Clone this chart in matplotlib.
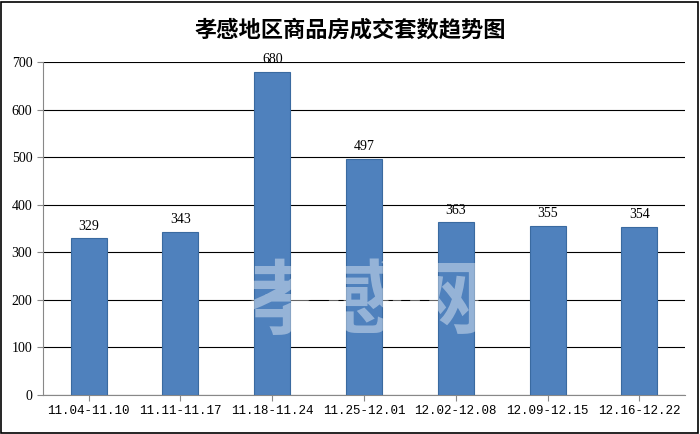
import matplotlib
matplotlib.use("Agg")
import matplotlib.pyplot as plt
from matplotlib.patches import Rectangle

categories = ["11.04-11.10", "11.11-11.17", "11.18-11.24", "11.25-12.01",
              "12.02-12.08", "12.09-12.15", "12.16-12.22"]
values = [329, 343, 680, 497, 363, 355, 354]
title = "孝感地区商品房成交套数趋势图"

fig = plt.figure(figsize=(7.0, 4.34), dpi=100)
ax = fig.add_axes([0.061, 0.09, 0.918, 0.767])
x = range(len(categories))
ax.bar(x, values, width=0.39, color="#4F81BD", edgecolor="#3A6AA0", linewidth=0.8, zorder=3)
for xi, v in zip(x, values):
    ax.text(xi, v + 12, str(v), ha="center", va="bottom", fontsize=10,
            family=["Liberation Serif", "DejaVu Serif"], zorder=4)
ax.set_ylim(0, 700)
ax.set_xlim(-0.5, len(categories) - 0.5)
ax.set_yticks(range(0, 701, 100))
ax.set_xticks(list(x))
ax.set_xticklabels(categories, family=["Liberation Mono", "DejaVu Sans Mono"], fontsize=9)
for lab in ax.get_yticklabels():
    lab.set_family(["Liberation Serif", "DejaVu Serif"])
    lab.set_fontsize(10)
ax.grid(axis="y", color="black", linewidth=0.8, zorder=0)
for s in ["top", "right"]:
    ax.spines[s].set_visible(False)
ax.spines["left"].set_color("#888888")
ax.spines["bottom"].set_color("#888888")
ax.tick_params(axis="y", length=4, color="#888888")
ax.tick_params(axis="x", length=4, color="#888888")

fig.text(0.5, 0.93, title, ha="center", va="center", fontsize=16, fontweight="bold",
         family=["Noto Sans CJK SC", "DejaVu Sans"])
fig.text(0.52, 0.30, "孝感网", ha="center", va="center", fontsize=58, fontweight="bold",
         color="white", alpha=0.4, family=["Noto Sans CJK SC", "DejaVu Sans"], zorder=10)
fig.patches.append(Rectangle((0.002, 0.003), 0.995, 0.993, transform=fig.transFigure,
                             fill=False, edgecolor="black", linewidth=1.2))
fig.savefig("out.png", dpi=100)
